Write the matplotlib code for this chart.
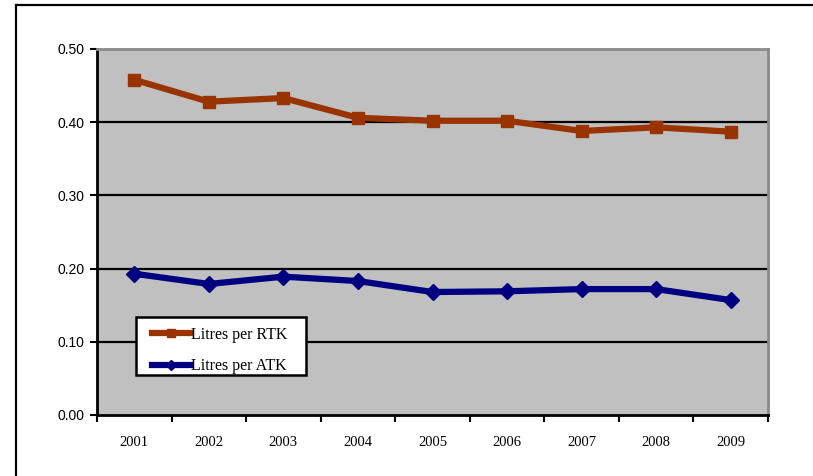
import matplotlib
matplotlib.use("Agg")
import matplotlib.pyplot as plt
from matplotlib.lines import Line2D
from matplotlib.patches import Rectangle

years = ["2001", "2002", "2003", "2004", "2005", "2006", "2007", "2008", "2009"]
litres_per_rtk = [0.458, 0.428, 0.433, 0.406, 0.402, 0.402, 0.388, 0.393, 0.387]
litres_per_atk = [0.193, 0.179, 0.189, 0.183, 0.168, 0.169, 0.172, 0.172, 0.157]
y_ticks = [0.0, 0.1, 0.2, 0.3, 0.4, 0.5]

W, H = 813, 476
fig = plt.figure(figsize=(W / 100, H / 100), dpi=100)
fig.patch.set_facecolor("white")

# outer chart frame (left and top edges)
fig.add_artist(Line2D([16 / W, 16 / W], [0, 1 - 5 / H], color="black", lw=1.6,
                      transform=fig.transFigure))
fig.add_artist(Line2D([16 / W, 1], [1 - 5 / H, 1 - 5 / H], color="black", lw=1.6,
                      transform=fig.transFigure))

ax_l, ax_b, ax_w, ax_h = 97, 415, 671, 366
ax = fig.add_axes([ax_l / W, 1 - ax_b / H, ax_w / W, ax_h / H])
ax.set_facecolor("#C0C0C0")

x = list(range(len(years)))
ax.plot(x, litres_per_rtk, color="#993300", lw=4.5, marker="s", ms=8,
        label="Litres per RTK", solid_joinstyle="round", zorder=4)
ax.plot(x, litres_per_atk, color="#000080", lw=4.5, marker="D", ms=8,
        label="Litres per ATK", solid_joinstyle="round", zorder=4)

ax.set_xlim(-0.5, len(years) - 0.5)
ax.set_ylim(0, 0.5)
ax.set_yticks(y_ticks)
ax.set_yticklabels([f"{v:.2f}" for v in y_ticks], fontfamily="Liberation Sans", fontsize=10)
for v in y_ticks[1:-1]:
    ax.axhline(v, color="black", lw=1.6, zorder=2)

# category ticks sit between the years; labels centred under each year
ax.set_xticks([i - 0.5 for i in range(len(years) + 1)])
ax.set_xticklabels([])
ax.set_xticks(x, minor=True)
ax.set_xticklabels(years, minor=True, fontfamily="Liberation Serif", fontsize=10.5)
ax.tick_params(axis="x", which="minor", length=0, pad=15)
ax.tick_params(axis="x", which="major", direction="out", length=5, width=1.5)
ax.tick_params(axis="y", direction="out", length=5, width=1.5, pad=4)

for side in ("left", "bottom"):
    ax.spines[side].set_color("black")
    ax.spines[side].set_linewidth(2)
for side in ("top", "right"):
    ax.spines[side].set_color("#8a8a8a")
    ax.spines[side].set_linewidth(2)

# legend box
box = Rectangle(((136 - ax_l) / ax_w, (ax_b - 375) / ax_h), 170 / ax_w, 58 / ax_h,
                transform=ax.transAxes, facecolor="white", edgecolor="black",
                lw=1.8, zorder=6)
ax.add_patch(box)
leg = ax.legend(loc="upper left", bbox_to_anchor=((152 - ax_l) / ax_w, (ax_b - 327) / ax_h),
                prop={"family": "Liberation Serif", "size": 11.5},
                frameon=False, handlelength=2.4, handletextpad=0.05,
                borderpad=0, borderaxespad=0, labelspacing=0.95, markerscale=0.7)
leg.set_zorder(7)

fig.savefig("out.png", dpi=100)
